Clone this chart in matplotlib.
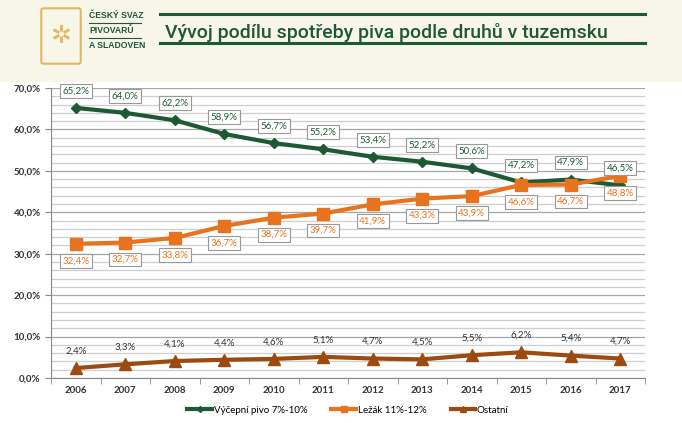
import numpy as np
import matplotlib.pyplot as plt
from matplotlib.patches import Rectangle, FancyBboxPatch
from matplotlib.ticker import MultipleLocator, FuncFormatter

years = ['2006', '2007', '2008', '2009', '2010', '2011',
         '2012', '2013', '2014', '2015', '2016', '2017']
vycepni = [65.2, 64.0, 62.2, 58.9, 56.7, 55.2, 53.4, 52.2, 50.6, 47.2, 47.9, 46.5]
lezak = [32.4, 32.7, 33.8, 36.7, 38.7, 39.7, 41.9, 43.3, 43.9, 46.6, 46.7, 48.8]
ostatni = [2.4, 3.3, 4.1, 4.4, 4.6, 5.1, 4.7, 4.5, 5.5, 6.2, 5.4, 4.7]

names = ['Výčepní pivo 7%-10%', 'Ležák 11%-12%', 'Ostatní']
title = 'Vývoj podílu spotřeby piva podle druhů v tuzemsku'

green = '#1d5a34'
orange = '#e8731e'
brown = '#9c4a10'
cream = '#f8f5e9'
gold = '#e0b763'

plt.rcParams['font.family'] = ['Lato', 'DejaVu Sans']

fig = plt.figure(figsize=(6.82, 4.23), dpi=100)
fig.patch.set_facecolor('white')

# header band
fig.patches.append(Rectangle((0, 1 - 82 / 423), 1, 82 / 423, transform=fig.transFigure,
                             facecolor=cream, edgecolor='none', zorder=0))
# title lines
for yy in [14, 43]:
    fig.add_artist(plt.Line2D([160 / 682, 645 / 682], [1 - yy / 423] * 2,
                              color=green, lw=2.2, transform=fig.transFigure))
fig.text(165 / 682, 1 - 33 / 423, title, color=green, fontsize=14,
         family='Roboto', fontweight='medium', va='center', ha='left')

# logo (rough)
fig.patches.append(FancyBboxPatch((44 / 682, 1 - 62 / 423), 34 / 682, 52 / 423,
                                  boxstyle='round,pad=0.004', transform=fig.transFigure,
                                  facecolor='none', edgecolor=gold, lw=1.5))
fig.text(61 / 682, 1 - 36 / 423, '✲', color=gold, fontsize=18, ha='center', va='center',
         family='DejaVu Sans')
for i, t in enumerate(['ČESKÝ SVAZ', 'PIVOVARŮ', 'A SLADOVEN']):
    fig.text(89 / 682, 1 - (15 + i * 15.5) / 423, t, color=green, fontsize=6.2,
             fontweight='bold', va='center', ha='left', family='Liberation Sans')
for yy in [23, 38]:
    fig.add_artist(plt.Line2D([89 / 682, 141 / 682], [1 - yy / 423] * 2,
                              color=green, lw=0.8, transform=fig.transFigure))

ax = fig.add_axes([51 / 682, 1 - 378 / 423, 594 / 682, 290 / 423])
x = np.arange(len(years))

ax.plot(x, vycepni, color=green, lw=3, marker='D', ms=5, label=names[0], zorder=4)
ax.plot(x, lezak, color=orange, lw=3, marker='s', ms=8, label=names[1], zorder=4)
ax.plot(x, ostatni, color=brown, lw=3, marker='^', ms=8, label=names[2], zorder=4)

box = dict(boxstyle='square,pad=0.25', facecolor='white', edgecolor='#999999', lw=0.8)
for xi, v in zip(x, vycepni):
    ax.annotate(f'{v:.1f}%'.replace('.', ','), (xi, v), xytext=(0, 9), textcoords='offset points',
                ha='center', va='bottom', fontsize=7, color=green, bbox=box, zorder=5)
for xi, v in zip(x, lezak):
    ax.annotate(f'{v:.1f}%'.replace('.', ','), (xi, v), xytext=(0, -9), textcoords='offset points',
                ha='center', va='top', fontsize=7, color=orange, bbox=box, zorder=5)
for xi, v in zip(x, ostatni):
    ax.annotate(f'{v:.1f}%'.replace('.', ','), (xi, v), xytext=(0, 9), textcoords='offset points',
                ha='center', va='bottom', fontsize=7, color='#333333', zorder=5)

ax.set_xlim(-0.5, len(years) - 0.5)
ax.set_ylim(0, 70)
ax.yaxis.set_major_locator(MultipleLocator(10))
ax.yaxis.set_minor_locator(MultipleLocator(2))
ax.yaxis.set_major_formatter(FuncFormatter(lambda v, p: f'{v:.1f}%'.replace('.', ',')))
ax.grid(which='major', axis='y', color='#a6a6a6', lw=0.9)
ax.grid(which='minor', axis='y', color='#cfcfcf', lw=0.9)
ax.set_axisbelow(True)
ax.set_xticks(x)
ax.set_xticklabels(years)
ax.set_xticks(np.arange(-0.5, len(years)), minor=True)
ax.tick_params(axis='x', which='major', length=0, pad=6, labelsize=7, labelcolor='#333333')
ax.tick_params(axis='x', which='minor', length=4, color='#888888')
ax.tick_params(axis='y', which='major', length=4, color='#888888', labelsize=7, labelcolor='#333333')
ax.tick_params(axis='y', which='minor', length=0)
for t in ax.get_xticklabels() + ax.get_yticklabels():
    t.set_fontweight('bold')
for s in ['top', 'right']:
    ax.spines[s].set_visible(False)
ax.spines['left'].set_color('#888888')
ax.spines['bottom'].set_color('#888888')

ax.legend(loc='upper center', bbox_to_anchor=(0.5, -0.065), ncol=3, frameon=False,
          fontsize=7, handlelength=2.5, handletextpad=0.2, columnspacing=2.5, markerscale=0.6)

fig.savefig('out.png', dpi=100)
